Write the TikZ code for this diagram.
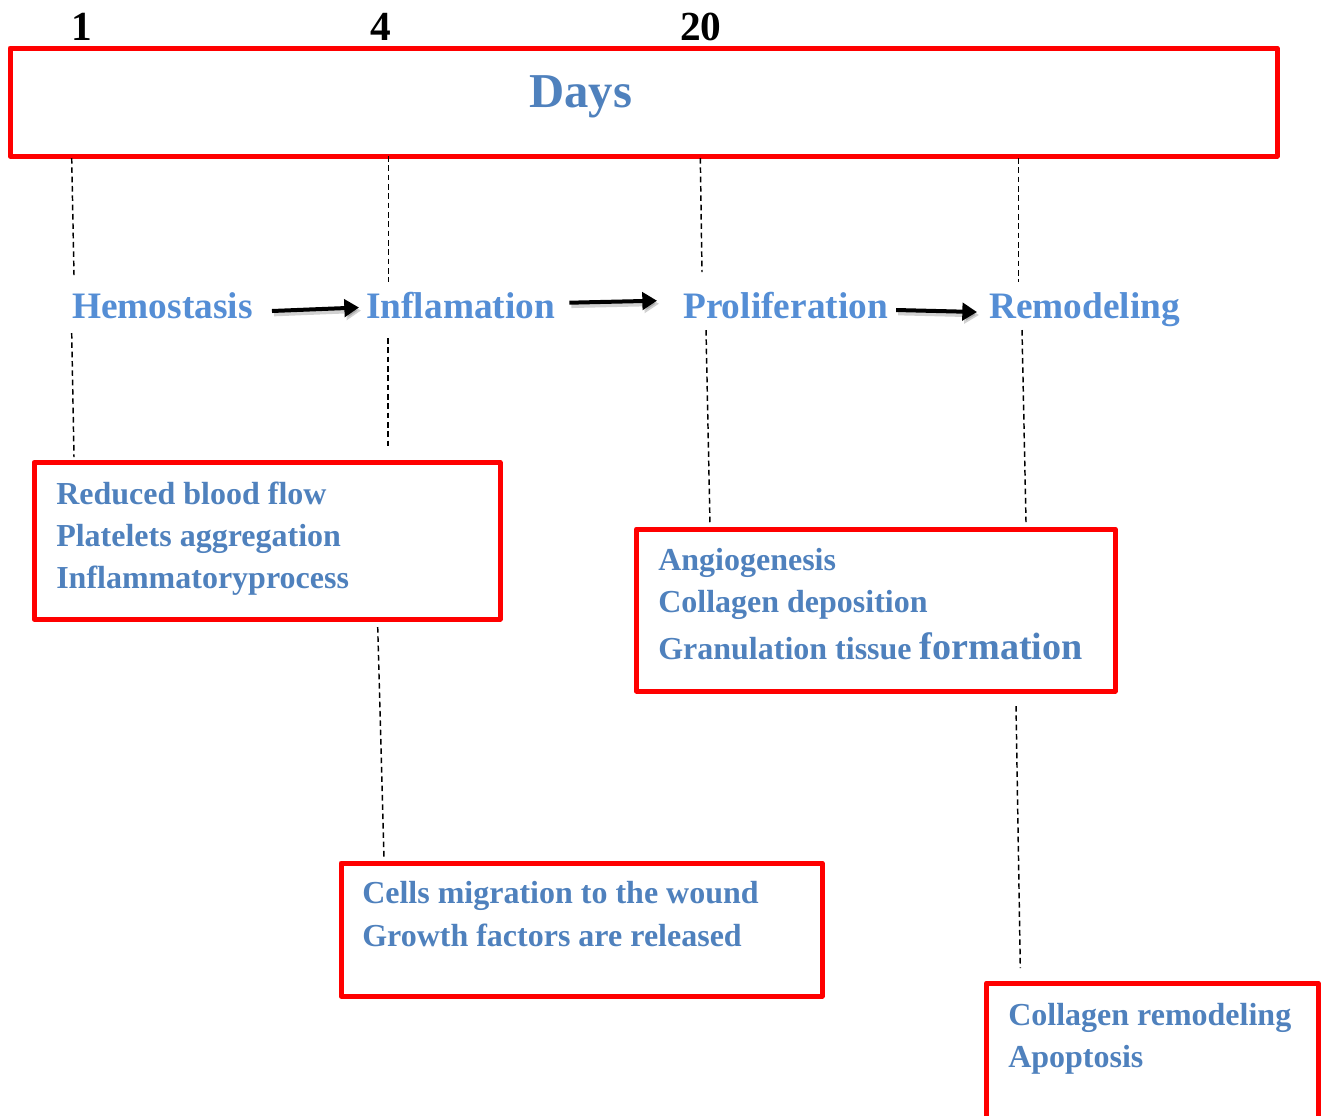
\documentclass[tikz,border=0pt]{standalone}
\usepackage{fontspec}
\setmainfont{Liberation Serif}
\usetikzlibrary{arrows.meta,calc,fit}
\definecolor{boxblue}{RGB}{79,129,189}
\definecolor{phaseblue}{RGB}{85,142,213}
\begin{document}
\begin{tikzpicture}[x=0.75pt,y=-0.75pt,
 redbox/.style={draw=red, line width=3.75pt, line join=round, inner sep=0pt},
 itemtext/.style={anchor=base west, inner sep=0pt, text=boxblue, font=\fontsize{24}{28}\selectfont\bfseries},
 phase/.style={anchor=base west, inner sep=0pt, text=phaseblue, font=\fontsize{28}{32}\selectfont\bfseries},
 daynum/.style={anchor=base west, inner sep=0pt, font=\fontsize{31}{34}\selectfont\bfseries},
 guide/.style={draw=black, line width=1.1pt, dash pattern=on 4.2pt off 2.8pt},
 arr/.style={draw=black, line width=3pt, -{Triangle[length=11pt,width=13pt]}},
 arrshadow/.style={draw=black, line width=3.5pt, opacity=0.18, -{Triangle[length=11pt,width=13pt]}}
]
\useasboundingbox (0,0) rectangle (1326,1115);
\clip (0,0) rectangle (1326,1115);

% day numbers
\node[daynum] (n1) at (71,40.7) {1};
\node[daynum] (n4) at (370,40.7) {4};
\node[daynum] (n20) at (680,40.7) {20};

% top box
\node[redbox, fit={(10,48) (1277,156)}] (days) {};
\node[anchor=base west, inner sep=0pt, text=boxblue, font=\fontsize{36.5}{40}\selectfont\bfseries] (dayslbl) at (529,107) {Days};

% phases
\node[phase] (hem) at (72,318) {Hemostasis};
\node[phase] (infl) at (366,318) {Inflamation};
\node[phase] (prol) at (683,318) {Proliferation};
\node[phase] (rem) at (989,318) {Remodeling};

% arrows (shadow then arrow)
\draw[arrshadow] ($(hem.base east)+(21,-4)$) -- ($(infl.base west)+(-5,-7.5)$);
\draw[arr] ($(hem.base east)+(19,-7)$) -- ($(infl.base west)+(-7,-10.5)$);
\draw[arrshadow] ($(infl.base east)+(16,-12.3)$) -- ($(prol.base west)+(-24,-14.3)$);
\draw[arr] ($(infl.base east)+(14,-15.3)$) -- ($(prol.base west)+(-26,-17.3)$);
\draw[arrshadow] ($(prol.base east)+(10,-5)$) -- ($(rem.base west)+(-10,-3)$);
\draw[arr] ($(prol.base east)+(8,-8)$) -- ($(rem.base west)+(-12,-6)$);

% boxes
\node[redbox, fit={(34,462.5) (500,619)}] (b1) {};
\node[itemtext] (b1a) at (56,504) {Reduced blood flow};
\node[itemtext] (b1b) at (56,546.7) {Platelets aggregation};
\node[itemtext] (b1c) at (56,588.5) {Inflammatoryprocess};

\node[redbox, fit={(636.5,529) (1115,691)}] (b2) {};
\node[itemtext] (b2a) at (658,570) {Angiogenesis};
\node[itemtext] (b2b) at (658,612) {Collagen deposition};
\node[itemtext] (b2c) at (658,659.5) {Granulation tissue {\fontsize{28.6}{32}\selectfont formation}};

\node[redbox, fit={(341,863) (822,996)}] (b3) {};
\node[itemtext] (b3a) at (362,903.5) {Cells migration to the wound};
\node[itemtext] (b3b) at (362,946.7) {Growth factors are released};

\node[redbox, fit={(986.5,983) (1318,1145)}] (b4) {};
\node[itemtext] (b4a) at (1008,1025) {Collagen remodeling};
\node[itemtext] (b4b) at (1008,1067.5) {Apoptosis};

% dashed guide lines
\coordinate (g1a) at (71.7,158); \coordinate (g1b) at (74,275);
\coordinate (g1c) at (71.7,333); \coordinate (g1d) at (74,457);
\coordinate (g2a) at (388.3,156); \coordinate (g2b) at (388.3,282);
\coordinate (g2c) at (388,338); \coordinate (g2d) at (388,446);
\coordinate (g3a) at (700.3,158); \coordinate (g3b) at (702,272);
\coordinate (g3c) at (706,330); \coordinate (g3d) at (710,524);
\coordinate (g4a) at (1018.3,158); \coordinate (g4b) at (1018.3,282);
\coordinate (g4c) at (1022,330); \coordinate (g4d) at (1026,522);
\coordinate (g5a) at (377.7,627); \coordinate (g5b) at (384,858);
\coordinate (g6a) at (1016,706); \coordinate (g6b) at (1020.3,968);
\draw[guide] (g1a) -- (g1b);
\draw[guide] (g1c) -- (g1d);
\draw[guide] (g2a) -- (g2b);
\draw[guide] (g2c) -- (g2d);
\draw[guide] (g3a) -- (g3b);
\draw[guide] (g3c) -- (g3d);
\draw[guide] (g4a) -- (g4b);
\draw[guide] (g4c) -- (g4d);
\draw[guide] (g5a) -- (g5b);
\draw[guide] (g6a) -- (g6b);
\end{tikzpicture}
\end{document}
